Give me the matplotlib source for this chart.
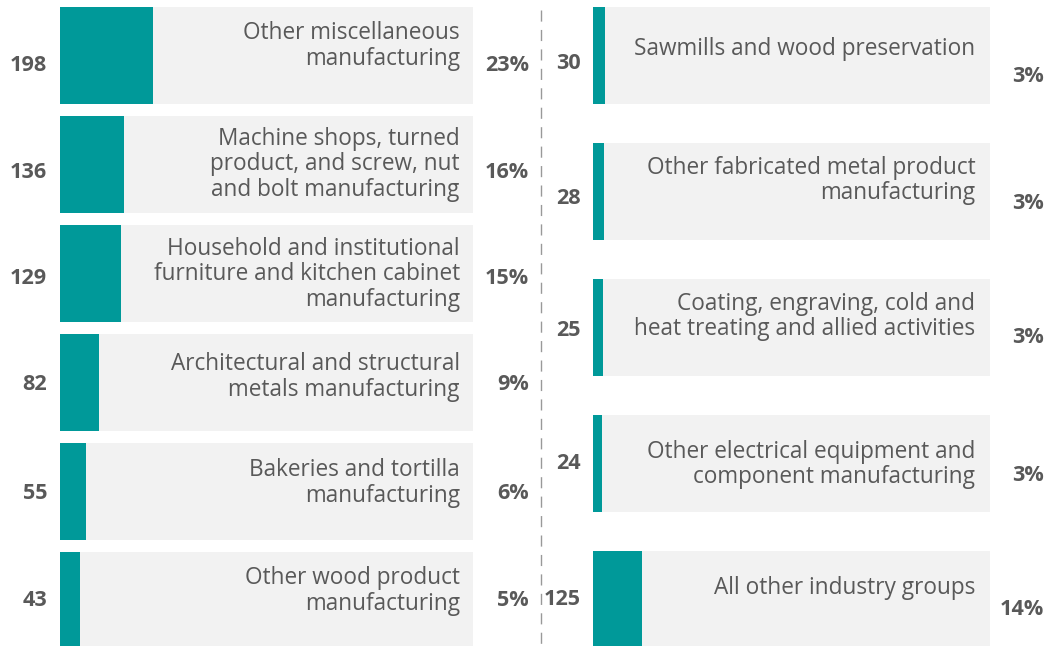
import matplotlib.pyplot as plt
from matplotlib.lines import Line2D
from matplotlib.transforms import blended_transform_factory

plt.rcParams['font.family'] = ['Open Sans', 'DejaVu Sans']

# data
left_labels = ["Other miscellaneous\nmanufacturing",
               "Machine shops, turned\nproduct, and screw, nut\nand bolt manufacturing",
               "Household and institutional\nfurniture and kitchen cabinet\nmanufacturing",
               "Architectural and structural\nmetals manufacturing",
               "Bakeries and tortilla\nmanufacturing",
               "Other wood product\nmanufacturing"]
left_counts = [198, 136, 129, 82, 55, 43]
left_pcts = ["23%", "16%", "15%", "9%", "6%", "5%"]

right_labels = ["Sawmills and wood preservation",
                "Other fabricated metal product\nmanufacturing",
                "Coating, engraving, cold and\nheat treating and allied activities",
                "Other electrical equipment and\ncomponent manufacturing",
                "All other industry groups"]
right_counts = [30, 28, 25, 24, 125]
right_pcts = ["3%", "3%", "3%", "3%", "14%"]

total = sum(left_counts) + sum(right_counts)

teal = "#009999"
bg = "#f2f2f2"
txt = "#595959"

W, H = 1060, 646
fig = plt.figure(figsize=(W / 100, H / 100), dpi=100)


def px_axes(x0, x1, ytop, ybot):
    return fig.add_axes([x0 / W, (H - ybot) / H, (x1 - x0) / W, (ybot - ytop) / H])


def panel(ax, labels, counts, pcts, bar_h, xmax, lab_x, lab_off, num_off, pct_off):
    n = len(labels)
    ys = list(range(n))
    ax.barh(ys, [xmax] * n, height=bar_h, color=bg)
    ax.barh(ys, counts, height=bar_h, color=teal)
    ax.set_xlim(0, xmax)
    ax.set_ylim(n - 0.5, -0.5)
    ax.axis("off")
    tr = blended_transform_factory(ax.transAxes, ax.transData)
    for i in ys:
        ax.text(lab_x, i - bar_h / 2 + lab_off[i], labels[i], transform=tr, ha="right", va="top",
                fontsize=16.3, color=txt, linespacing=1.08)
        ax.text(-0.031, i + num_off[i], str(counts[i]), transform=tr, ha="right", va="center",
                fontsize=15.6, fontweight="bold", color=txt)
        ax.text(1.135, i + pct_off[i], pcts[i], transform=tr, ha="right", va="center",
                fontsize=15.6, fontweight="bold", color=txt)


axl = px_axes(60, 473, 1, 655)
panel(axl, left_labels, left_counts, left_pcts, 97 / 109, total, 0.968,
      [0.13, 0.10, 0.11, 0.168, 0.14, 0.13],
      [0.09, 0.07, 0.05, 0.02, 0.02, 0.0], [0.09, 0.07, 0.05, 0.02, 0.02, 0.0])

axr = px_axes(593, 990, -12.5, 667.5)
panel(axr, right_labels, right_counts, right_pcts, 97 / 136, total * 1.15, 0.963,
      [0.2175, 0.0925, 0.0925, 0.181, 0.181],
      [0.06, 0.05, 0.02, 0.0, 0.0], [0.155, 0.085, 0.075, 0.085, 0.075])

fig.add_artist(Line2D([541 / W, 541 / W], [(H - 10) / H, 0], color="#999999", lw=1,
                      linestyle=(0, (8, 6))))

fig.savefig("out.png", dpi=100)
